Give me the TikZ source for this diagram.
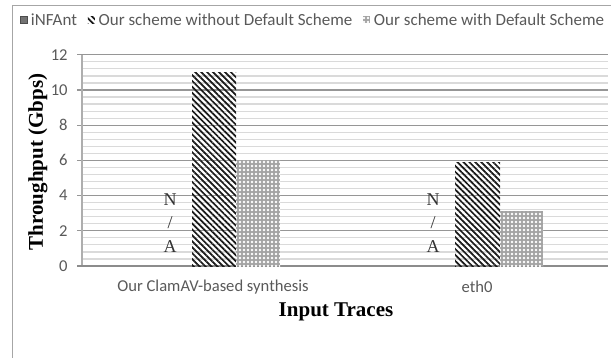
\documentclass[tikz,border=0pt]{standalone}
\usepackage{fontspec}
\setmainfont{Liberation Serif}
\newfontfamily\calfont{Carlito}
\usetikzlibrary{patterns.meta}
\definecolor{framegray}{HTML}{A6A6A6}
\definecolor{majorgrid}{HTML}{969696}
\definecolor{minorgrid}{HTML}{DADADA}
\definecolor{axisgray}{HTML}{8C8C8C}
\definecolor{labelgray}{HTML}{595959}
\tikzset{
  px/.style={x=0.5pt,y=-0.5pt},
  majorline/.style={majorgrid,line width=0.6pt},
  minorline/.style={minorgrid,line width=0.6pt},
  ticklabel/.style={font=\calfont\fontsize{8.3}{10}\selectfont,text=labelgray,anchor=east,inner sep=0pt},
  catlabel/.style={font=\calfont\fontsize{8.3}{10}\selectfont,text=labelgray,inner sep=0pt},
  legendtext/.style={font=\calfont\fontsize{8.5}{10}\selectfont,text=labelgray,inner sep=0pt,anchor=west},
  axistitle/.style={font=\bfseries\fontsize{10.5}{12}\selectfont,inner sep=0pt},
  naletter/.style={font=\fontsize{9}{10}\selectfont,text=black!80,inner sep=0pt},
  hatchfill/.style={pattern={Lines[angle=-45,distance=2.1pt,line width=0.85pt]},pattern color=black!90},
  dotbase/.style={fill=black!36},
  dotholes/.style={pattern={Dots[distance=2pt,radius=0.64pt]},pattern color=white},
  keybox/.style={minimum size=3.5pt,inner sep=0pt,anchor=west},
}
\begin{document}
\begin{tikzpicture}[px]
  \useasboundingbox (0,0) rectangle (611,358);
  % outer frame (top and left edges)
  \draw[framegray,line width=0.8pt] (12.5,358) -- (12.5,5.5) -- (611,5.5);

  % minor gridlines every 0.4 Gbps
  \foreach \k in {1,...,30}{
    \pgfmathsetmacro\yy{266-0.4*\k*17.6}
    \draw[minorline] (82,\yy) -- (608,\yy);
  }
  % major gridlines, ticks and tick labels
  \foreach \v in {2,4,...,12}{
    \pgfmathsetmacro\yy{266-\v*17.6}
    \draw[majorline] (77,\yy) -- (608,\yy);
  }
  \foreach \v in {0,2,...,12}{
    \pgfmathsetmacro\yy{266-\v*17.6}
    \node[ticklabel] (tick\v) at (68,\yy) {\v};
  }
  % axes
  \draw[minorgrid!80!black,line width=0.6pt] (82,54.8) -- (82,266);
  \draw[axisgray,line width=0.7pt] (77,266) -- (608,266);

  % bars: ClamAV-based synthesis
  \fill[hatchfill] (192,{266-11*17.6}) rectangle (236,266);
  \fill[dotbase] (236,{266-6*17.6}) rectangle (280,266);
  \fill[dotholes] (236,{266-6*17.6}) rectangle (280,266);
  % bars: eth0
  \fill[hatchfill] (455,{266-5.9*17.6}) rectangle (500,266);
  \fill[dotbase] (500,{266-3.1*17.6}) rectangle (543,266);
  \fill[dotholes] (500,{266-3.1*17.6}) rectangle (543,266);

  % N/A markers for iNFAnt
  \node[naletter] (na1n) at (170,200) {N};
  \node[naletter] (na1s) at (170,223) {/};
  \node[naletter] (na1a) at (170,247) {A};
  \node[naletter] (na2n) at (433,200) {N};
  \node[naletter] (na2s) at (433,223) {/};
  \node[naletter] (na2a) at (433,247) {A};

  % category labels
  \node[catlabel] (cat1) at (213,287) {Our ClamAV-based synthesis};
  \node[catlabel] (cat2) at (477,287) {eth0};

  % axis titles
  \node[axistitle] (xtitle) at (336,312) {Input Traces};
  \node[axistitle,rotate=90] (ytitle) at (38,162) {Throughput (Gbps)};

  % legend
  \node[keybox,fill=black!55,draw=black!70,line width=0.3pt] (key1) at (20,20) {};
  \node[legendtext] (leg1) at ([xshift=1.5pt]key1.east) {iNFAnt};
  \node[keybox,hatchfill] (key2) at ([xshift=5pt]leg1.east) {};
  \node[legendtext] (leg2) at ([xshift=1.5pt]key2.east) {Our scheme without Default Scheme};
  \node[keybox,dotbase] (key3) at ([xshift=5pt]leg2.east) {};
  \node[keybox,dotholes] at (key3.west) {};
  \node[legendtext] (leg3) at ([xshift=1.5pt]key3.east) {Our scheme with Default Scheme};
\end{tikzpicture}
\end{document}
